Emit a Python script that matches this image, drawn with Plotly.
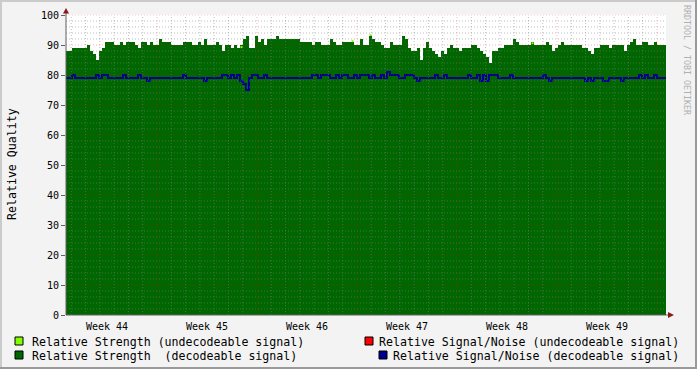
import plotly.graph_objects as go

# ---------------- data ----------------
WEEK_LABELS = ["Week 44", "Week 45", "Week 46", "Week 47", "Week 48", "Week 49"]
WEEK_CENTERS = [3.5, 10.5, 17.5, 24.5, 31.5, 38.5]   # days (mid-week)
Y_TICKS = [0, 10, 20, 30, 40, 50, 60, 70, 80, 90, 100]

T_START = 0.63      # first sample, in days since start of week 44
T_STEP = 0.21       # sample interval in days

strength_decodeable = [
    88, 88, 89, 89, 89, 89, 89, 90, 88, 87,
    85, 88, 89, 91, 91, 91, 90, 90, 91, 90,
    91, 91, 91, 90, 89, 91, 91, 90, 91, 90,
    90, 92, 91, 91, 91, 90, 90, 90, 90, 91,
    91, 91, 90, 90, 91, 90, 92, 90, 90, 90,
    91, 90, 88, 90, 90, 89, 90, 89, 90, 92,
    93, 89, 89, 93, 91, 92, 90, 92, 92, 92,
    93, 92, 92, 92, 92, 92, 92, 92, 91, 91,
    91, 91, 90, 91, 91, 90, 90, 90, 92, 91,
    90, 90, 91, 91, 91, 91, 90, 90, 92, 90,
    90, 93, 92, 91, 91, 90, 89, 89, 91, 90,
    90, 90, 93, 92, 89, 88, 88, 89, 85, 89,
    91, 89, 88, 87, 86, 88, 87, 89, 90, 89,
    89, 88, 89, 89, 89, 90, 90, 89, 88, 87,
    86, 84, 88, 88, 89, 89, 90, 90, 90, 92,
    91, 90, 90, 90, 90, 91, 90, 90, 90, 90,
    91, 90, 88, 89, 90, 91, 90, 90, 90, 90,
    90, 90, 89, 89, 88, 87, 89, 89, 90, 90,
    90, 89, 90, 90, 90, 90, 88, 90, 91, 92,
    90, 90, 91, 91, 90, 90, 91, 90, 90, 90,
]

snr_decodeable = [
    79, 79, 80, 79, 79, 79, 79, 79, 79, 79,
    80, 79, 80, 80, 79, 79, 79, 79, 79, 80,
    79, 79, 79, 79, 80, 79, 79, 78, 79, 79,
    79, 79, 79, 79, 79, 79, 79, 79, 79, 80,
    79, 79, 79, 79, 79, 79, 78, 79, 79, 79,
    79, 79, 80, 80, 79, 80, 79, 80, 78, 77,
    75, 79, 80, 80, 79, 79, 80, 79, 79, 79,
    79, 79, 79, 79, 79, 79, 79, 79, 79, 79,
    79, 79, 80, 80, 79, 80, 80, 80, 79, 79,
    80, 79, 80, 80, 79, 79, 80, 79, 80, 80,
    80, 79, 80, 79, 79, 80, 79, 81, 80, 80,
    80, 79, 79, 80, 80, 80, 79, 78, 79, 79,
    79, 79, 79, 80, 79, 79, 80, 79, 79, 79,
    79, 79, 79, 79, 80, 79, 79, 80, 78, 80,
    78, 80, 80, 80, 79, 79, 79, 79, 80, 79,
    79, 79, 79, 79, 79, 79, 79, 79, 79, 80,
    79, 78, 79, 79, 79, 79, 79, 79, 79, 79,
    79, 79, 79, 78, 79, 78, 79, 79, 79, 78,
    78, 79, 79, 79, 79, 78, 79, 79, 79, 79,
    79, 80, 79, 80, 79, 79, 80, 79, 79, 79,
]

# undecodeable strength only peeks out above the decodeable area at a few samples
undecodeable_idx = [58, 95, 101, 155]
undecodeable_val = [89.3, 91.3, 93.3, 90.6]

# ---------------- layout constants ----------------
W, H = 697, 369
L, R, T, B = 66, 31, 15, 54
PW, PH = W - L - R, H - T - B
X_MIN, X_MAX = T_START, T_START + 42
MONO = "DejaVu Sans Mono"

GREEN = "#006600"
BLUE = "#00008f"
LIME = "#80ff00"
RED = "#ff0000"


def px(x):
    return (x - L) / PW


def py(y):
    return (H - B - y) / PH


times = [T_START + i * T_STEP for i in range(len(strength_decodeable))]
times_ext = times + [times[-1] + T_STEP]
green_ext = strength_decodeable + [strength_decodeable[-1]]
blue_ext = snr_decodeable + [snr_decodeable[-1]]

fig = go.Figure()
fig.add_trace(go.Scatter(
    x=times_ext, y=green_ext, mode="lines", line=dict(width=0, shape="hv"),
    fill="tozeroy", fillcolor=GREEN, hoverinfo="skip", showlegend=False))
fig.add_trace(go.Scatter(
    x=[times[i] + T_STEP / 2 for i in undecodeable_idx], y=undecodeable_val,
    mode="markers", marker=dict(symbol="square", size=2, color=LIME, line=dict(width=0)),
    hoverinfo="skip", showlegend=False))
fig.add_trace(go.Scatter(
    x=times_ext, y=blue_ext, mode="lines", line=dict(width=2, shape="hv", color=BLUE),
    hoverinfo="skip", showlegend=False))

shapes = []
MINOR = "rgba(128,128,128,0.5)"
MAJOR = "rgba(255,0,0,0.3)"
DASH = "1px,2px"
for d in range(1, 43):
    c = MAJOR if d % 7 == 0 else MINOR
    shapes.append(dict(type="line", xref="x", yref="y", x0=d, x1=d, y0=0, y1=100,
                       line=dict(color=c, width=1, dash=DASH), layer="above"))
for v in range(2, 101, 2):
    c = MAJOR if v % 10 == 0 else MINOR
    shapes.append(dict(type="line", xref="paper", yref="y", x0=0, x1=1, y0=v, y1=v,
                       line=dict(color=c, width=1, dash=DASH), layer="above"))

AX = "#606060"
ARROW = "#8b1a1a"
# axes lines
shapes.append(dict(type="line", xref="paper", yref="paper", x0=px(66), x1=px(66),
                   y0=py(315), y1=py(10), line=dict(color=AX, width=1), layer="above"))
shapes.append(dict(type="line", xref="paper", yref="paper", x0=px(66), x1=px(670),
                   y0=py(315), y1=py(315), line=dict(color=AX, width=1), layer="above"))
# arrows
shapes.append(dict(type="path", xref="paper", yref="paper",
                   path=f"M {px(63)},{py(13.5)} L {px(69)},{py(13.5)} L {px(66)},{py(8)} Z",
                   fillcolor=ARROW, line=dict(width=0), layer="above"))
shapes.append(dict(type="path", xref="paper", yref="paper",
                   path=f"M {px(668)},{py(312)} L {px(668)},{py(318)} L {px(674)},{py(315)} Z",
                   fillcolor=ARROW, line=dict(width=0), layer="above"))
# outer frame (3D shading)
shapes.append(dict(type="rect", xref="paper", yref="paper", x0=px(0), x1=px(W), y0=py(0), y1=py(2),
                   fillcolor="#cbcbcb", line=dict(width=0), layer="above"))
shapes.append(dict(type="rect", xref="paper", yref="paper", x0=px(0), x1=px(2), y0=py(0), y1=py(H),
                   fillcolor="#cbcbcb", line=dict(width=0), layer="above"))
shapes.append(dict(type="rect", xref="paper", yref="paper", x0=px(0), x1=px(W), y0=py(H - 2), y1=py(H),
                   fillcolor="#999999", line=dict(width=0), layer="above"))
shapes.append(dict(type="rect", xref="paper", yref="paper", x0=px(W - 2), x1=px(W), y0=py(0), y1=py(H),
                   fillcolor="#999999", line=dict(width=0), layer="above"))

# legend swatches
legend_items = [
    (15, 337, LIME, "Relative Strength (undecodeable signal)", 30, "left"),
    (15, 351, GREEN, "Relative Strength  (decodeable signal)", 30, "left"),
    (365, 337, RED, "Relative Signal/Noise (undecodeable signal)", 681, "right"),
    (379, 351, BLUE, "Relative Signal/Noise (decodeable signal)", 681, "right"),
]
annotations = []
for sx, sy, col, text, tx, anchor in legend_items:
    shapes.append(dict(type="rect", xref="paper", yref="paper",
                       x0=px(sx), x1=px(sx + 8), y0=py(sy), y1=py(sy + 8),
                       fillcolor=col, line=dict(color="black", width=1), layer="above"))
    annotations.append(dict(xref="paper", yref="paper", x=px(tx), y=py(sy + 4.5),
                            xanchor=anchor, yanchor="middle", showarrow=False, text=text,
                            font=dict(family=MONO, size=11.6, color="black")))

annotations.append(dict(xref="paper", yref="paper", x=px(12), y=py(164), textangle=-90,
                        xanchor="center", yanchor="middle", showarrow=False,
                        text="Relative Quality", font=dict(family=MONO, size=11.6, color="black")))
annotations.append(dict(xref="paper", yref="paper", x=px(687), y=py(60), textangle=90,
                        xanchor="center", yanchor="middle", showarrow=False,
                        text="RRDTOOL / TOBI OETIKER", font=dict(family=MONO, size=8.3, color="#b0b0b0")))

fig.update_layout(
    width=W, height=H,
    margin=dict(l=L, r=R, t=T, b=B, pad=0, autoexpand=False),
    paper_bgcolor="#f3f3f3", plot_bgcolor="white",
    showlegend=False,
    shapes=shapes, annotations=annotations,
    xaxis=dict(range=[X_MIN, X_MAX], showgrid=False, zeroline=False, showline=False,
               tickmode="array", tickvals=WEEK_CENTERS, ticktext=WEEK_LABELS, ticks="",
               ticklabelstandoff=4,
               tickfont=dict(family=MONO, size=10, color="black"), fixedrange=True),
    yaxis=dict(range=[0, 100], showgrid=False, zeroline=False, showline=False,
               tickmode="array", tickvals=Y_TICKS, ticktext=[str(v) for v in Y_TICKS],
               ticks="outside", ticklen=4, tickcolor=AX,
               tickfont=dict(family=MONO, size=10, color="black"), fixedrange=True),
)

fig.write_html("out.html")
